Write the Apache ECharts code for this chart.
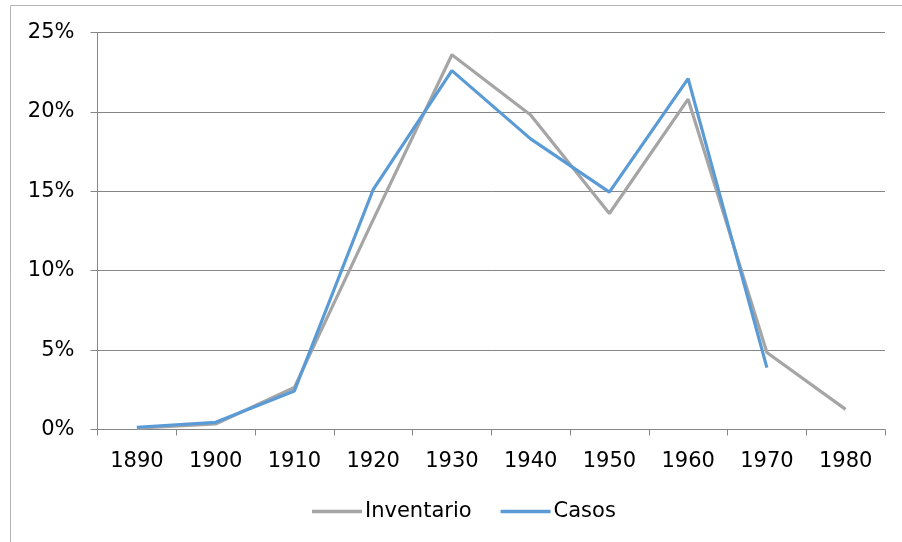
<!DOCTYPE html>
<html>
<head>
<meta charset="utf-8">
<script src="https://cdn.jsdelivr.net/npm/echarts@6/dist/echarts.min.js"></script>
<style>
  html, body { margin: 0; padding: 0; background: #fff; }
  #chart { width: 902px; height: 542px; }
</style>
</head>
<body>
<div id="chart"></div>
<script>
/* ── data ── */
const years = ["1890", "1900", "1910", "1920", "1930", "1940", "1950", "1960", "1970", "1980"];
const inventario = [0.08, 0.35, 2.65, 13.2, 23.6, 19.8, 13.6, 20.8, 4.85, 1.27];
const casos = [0.14, 0.45, 2.43, 15.1, 22.6, 18.3, 14.95, 22.1, 3.9, null];

/* ── style ── */
const GRAY = "#a5a5a5";
const BLUE = "#5b9bd5";
const AXIS = "#868686";
const FONT = "DejaVu Sans, sans-serif";

const chart = echarts.init(document.getElementById("chart"));

chart.setOption({
  animation: false,
  graphic: [
    {
      type: "rect",
      shape: { x: 10.5, y: 5.5, width: 1000, height: 1000 },
      style: { fill: "none", stroke: "#b4b4b4", lineWidth: 1 },
      silent: true,
    },
  ],
  grid: { left: 97.5, right: 17, top: 32.5, bottom: 112.5 },
  legend: {
    left: 307, top: 496,
    icon: "rect",
    itemWidth: 50, itemHeight: 3.5, itemGap: 29,
    textStyle: { fontFamily: FONT, fontSize: 21, color: "#000", padding: [0, 0, 0, -2] },
    data: ["Inventario", "Casos"],
  },
  xAxis: {
    type: "category",
    data: years,
    boundaryGap: true,
    axisLine: { lineStyle: { color: AXIS, width: 1 } },
    axisTick: { show: true, length: 6, interval: 0, lineStyle: { color: AXIS } },
    axisLabel: { color: "#000", fontFamily: FONT, fontSize: 21, margin: 22, interval: 0 },
    splitLine: { show: false },
  },
  yAxis: {
    type: "value",
    min: 0, max: 25, interval: 5,
    axisLine: { show: true, lineStyle: { color: AXIS, width: 1 } },
    axisTick: { show: true, length: 7, lineStyle: { color: AXIS } },
    axisLabel: { color: "#000", fontFamily: FONT, fontSize: 21, margin: 23, formatter: (v) => v + "%" },
    splitLine: { lineStyle: { color: AXIS, width: 1 } },
  },
  series: [
    {
      name: "Inventario", type: "line", data: inventario,
      symbol: "none", lineStyle: { color: GRAY, width: 3.2 }, itemStyle: { color: GRAY },
      z: 2,
    },
    {
      name: "Casos", type: "line", data: casos,
      symbol: "none", lineStyle: { color: BLUE, width: 3.2 }, itemStyle: { color: BLUE },
      z: 3,
    },
  ],
});
</script>
</body>
</html>
